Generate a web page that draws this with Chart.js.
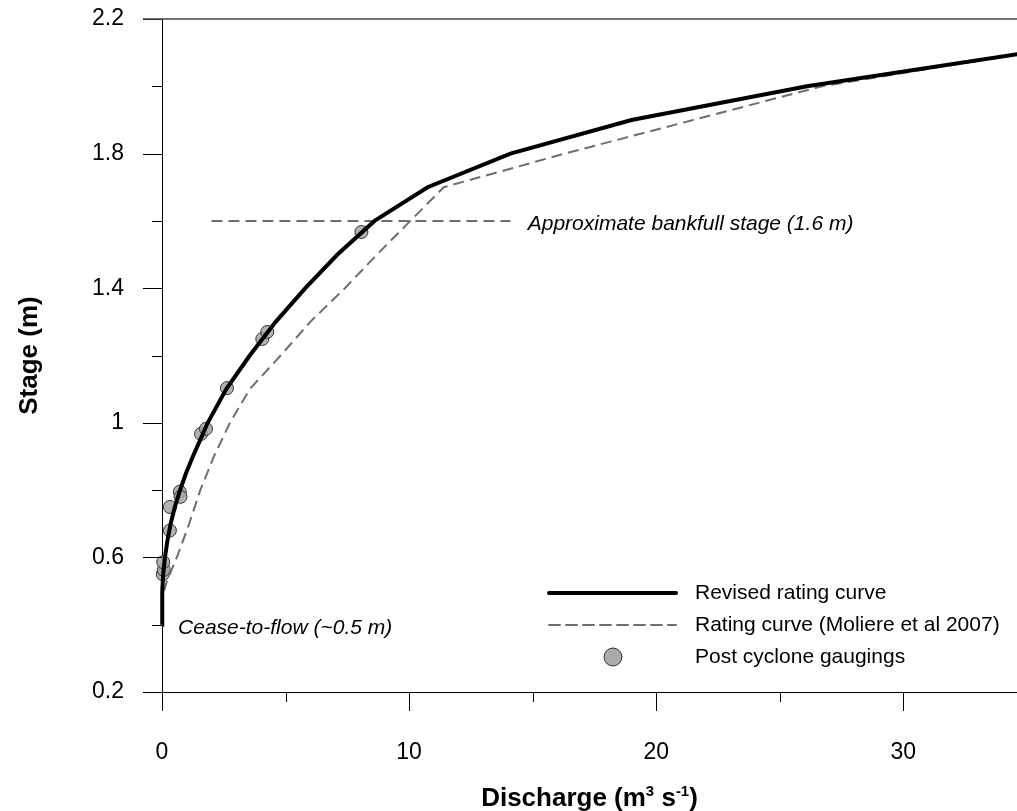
<!DOCTYPE html>
<html lang="en">
<head>
<meta charset="UTF-8">
<title>Stage-discharge rating</title>
<script src="https://cdn.jsdelivr.net/npm/chart.js@4.4.0/dist/chart.umd.min.js"></script>
<style>
  body { margin: 0; background: #fff; }
  canvas { display: block; }
</style>
</head>
<body>
<canvas id="ratingChart" width="1017" height="811"></canvas>
<script>
// revised rating curve (discharge m3/s, stage m)
const revisedQ = [0, 0.01, 0.05, 0.12, 0.22, 0.35, 0.52, 0.73, 0.97, 1.25, 1.55, 1.85, 2.6, 3.55, 4.6, 5.8, 7.1, 8.6, 10.75, 14.1, 19.0, 26.1, 35.0];
const revisedH = [0.40, 0.50, 0.55, 0.60, 0.65, 0.70, 0.75, 0.80, 0.85, 0.90, 0.95, 1.00, 1.10, 1.20, 1.30, 1.40, 1.50, 1.60, 1.70, 1.80, 1.90, 2.00, 2.10];

// older rating curve (Moliere et al 2007)
const moliereQ = [0.08, 0.2, 0.6, 1.1, 1.55, 2.1, 2.75, 3.55, 4.8, 6.0, 7.4, 8.7, 10.05, 11.4, 16.3, 21.5, 26.7, 35.0];
const moliereH = [0.50, 0.53, 0.60, 0.70, 0.80, 0.90, 1.00, 1.10, 1.20, 1.30, 1.40, 1.50, 1.60, 1.70, 1.80, 1.90, 2.00, 2.10];

// gaugings after the cyclone
const gaugingQ = [0.03, 0.07, 0.05, 0.32, 0.32, 0.72, 0.75, 1.58, 1.78, 2.63, 4.06, 4.26, 8.07];
const gaugingH = [0.55, 0.563, 0.586, 0.68, 0.75, 0.795, 0.78, 0.967, 0.982, 1.103, 1.249, 1.27, 1.567];

// bankfull reference line
const bankfullQ = [2.0, 14.1];
const bankfullH = [1.6, 1.6];

// tick values
const xTickLabels = [0, 10, 20, 30];
const yTickLabels = [0.2, 0.6, 1, 1.4, 1.8, 2.2];

const FONT = "'Liberation Sans', Arial, sans-serif";

function pairs(qs, hs) {
    return qs.map((q, i) => ({ x: q, y: hs[i] }));
}

const solidStyle = { color: '#000', width: 4, dash: [] };
const dashStyle = { color: '#6e6e6e', width: 2, dash: [11, 6] };

// tick marks: long for labelled ticks, short for the ones in between
const tickMarks = {
    id: 'tickMarks',
    afterDraw(chart) {
        const ctx = chart.ctx;
        const xs = chart.scales.x, ys = chart.scales.y;
        const a = chart.chartArea;
        ctx.save();
        ctx.strokeStyle = '#000';
        ctx.lineWidth = 1;
        ctx.beginPath();
        xs.ticks.forEach(t => {
            const px = Math.round(xs.getPixelForValue(t.value)) + 0.5;
            const len = xTickLabels.includes(t.value) ? 19 : 10;
            ctx.moveTo(px, a.bottom);
            ctx.lineTo(px, a.bottom + len);
        });
        ys.ticks.forEach(t => {
            const py = Math.round(ys.getPixelForValue(t.value)) + 0.5;
            const major = yTickLabels.some(v => Math.abs(v - t.value) < 1e-6);
            const len = major ? 19 : 10;
            ctx.moveTo(a.left, py);
            ctx.lineTo(a.left - len, py);
        });
        ctx.stroke();
        // top frame line
        ctx.strokeStyle = '#444';
        ctx.lineWidth = 1.5;
        ctx.beginPath();
        ctx.moveTo(a.left - 19, a.top);
        ctx.lineTo(a.right, a.top);
        ctx.stroke();
        ctx.restore();
    }
};

// text notes inside the plot
const notes = {
    id: 'notes',
    afterDraw(chart) {
        const ctx = chart.ctx;
        const xs = chart.scales.x, ys = chart.scales.y;
        ctx.save();
        ctx.fillStyle = '#000';
        ctx.font = 'italic 21px ' + FONT;
        ctx.textBaseline = 'middle';
        ctx.textAlign = 'left';
        ctx.fillText('Approximate bankfull stage (1.6 m)', xs.getPixelForValue(14.8), ys.getPixelForValue(1.59));
        ctx.fillText('Cease-to-flow (~0.5 m)', xs.getPixelForValue(0.65), ys.getPixelForValue(0.39));
        ctx.restore();
    }
};

// x axis title with superscripts
const xTitle = {
    id: 'xTitle',
    afterDraw(chart) {
        const ctx = chart.ctx;
        const a = chart.chartArea;
        const parts = [
            ['Discharge (m', false], ['3', true], [' s', false], ['-1', true], [')', false]
        ];
        const big = 'bold 26px ' + FONT, small = 'bold 15px ' + FONT;
        ctx.save();
        ctx.fillStyle = '#000';
        ctx.textBaseline = 'alphabetic';
        ctx.textAlign = 'left';
        let total = 0;
        parts.forEach(p => { ctx.font = p[1] ? small : big; total += ctx.measureText(p[0]).width; });
        let x = (a.left + a.right) / 2 - total / 2;
        const base = 806;
        parts.forEach(p => {
            ctx.font = p[1] ? small : big;
            ctx.fillText(p[0], x, p[1] ? base - 10 : base);
            x += ctx.measureText(p[0]).width;
        });
        ctx.restore();
    }
};

// legend in the lower right of the plot
const boxLegend = {
    id: 'boxLegend',
    afterDraw(chart) {
        const ctx = chart.ctx;
        const rows = [
            { label: chart.data.datasets[0].label, type: 'line', style: solidStyle, y: 593 },
            { label: chart.data.datasets[1].label, type: 'line', style: dashStyle, y: 625 },
            { label: chart.data.datasets[2].label, type: 'point', y: 657 }
        ];
        ctx.save();
        rows.forEach(r => {
            if (r.type === 'line') {
                ctx.strokeStyle = r.style.color;
                ctx.lineWidth = r.style.width;
                ctx.setLineDash(r.style.dash);
                ctx.lineCap = 'round';
                ctx.beginPath();
                ctx.moveTo(549, r.y);
                ctx.lineTo(676, r.y);
                ctx.stroke();
                ctx.setLineDash([]);
            } else {
                ctx.fillStyle = '#aaaaaa';
                ctx.strokeStyle = '#333';
                ctx.lineWidth = 1;
                ctx.beginPath();
                ctx.arc(613, r.y, 9, 0, Math.PI * 2);
                ctx.fill();
                ctx.stroke();
            }
            ctx.fillStyle = '#000';
            ctx.font = '21px ' + FONT;
            ctx.textBaseline = 'middle';
            ctx.textAlign = 'left';
            ctx.fillText(r.label, 695, r.y);
        });
        ctx.restore();
    }
};

const ctx = document.getElementById('ratingChart').getContext('2d');
const ratingChart = new Chart(ctx, {
    type: 'scatter',
    data: {
        datasets: [{
            label: 'Revised rating curve',
            data: pairs(revisedQ, revisedH),
            showLine: true,
            borderColor: solidStyle.color,
            borderWidth: solidStyle.width,
            pointRadius: 0,
            clip: false,
            order: 0
        }, {
            label: 'Rating curve (Moliere et al 2007)',
            data: pairs(moliereQ, moliereH),
            showLine: true,
            borderColor: dashStyle.color,
            borderWidth: dashStyle.width,
            borderDash: dashStyle.dash,
            pointRadius: 0,
            clip: false,
            order: 1
        }, {
            label: 'Post cyclone gaugings',
            data: pairs(gaugingQ, gaugingH),
            showLine: false,
            pointRadius: 6.5,
            backgroundColor: 'rgba(165,165,165,0.85)',
            borderColor: '#333',
            borderWidth: 1,
            clip: false,
            order: 2
        }, {
            label: 'Bankfull',
            data: pairs(bankfullQ, bankfullH),
            showLine: true,
            borderColor: dashStyle.color,
            borderWidth: dashStyle.width,
            borderDash: dashStyle.dash,
            pointRadius: 0,
            order: 3
        }]
    },
    options: {
        responsive: false,
        animation: false,
        devicePixelRatio: 1,
        layout: { autoPadding: false, padding: { top: 19, right: 0, left: 0, bottom: 0 } },
        plugins: {
            legend: { display: false },
            tooltip: { enabled: false }
        },
        scales: {
            x: {
                type: 'linear',
                min: 0,
                max: 34.6,
                grid: { display: false, drawTicks: false },
                border: { display: true, color: '#000', width: 1 },
                ticks: {
                    stepSize: 5,
                    includeBounds: false,
                    padding: 47,
                    color: '#000',
                    font: { family: FONT, size: 23 },
                    maxRotation: 0,
                    autoSkip: false,
                    callback: v => xTickLabels.includes(v) ? String(v) : ''
                },
                afterFit: s => {
                    s.height = 119;
                    s.paddingLeft = 0;
                    s.paddingRight = 0;
                }
            },
            y: {
                type: 'linear',
                min: 0.2,
                max: 2.2,
                grid: { display: false, drawTicks: false },
                border: { display: true, color: '#000', width: 1 },
                ticks: {
                    stepSize: 0.2,
                    padding: 38,
                    color: '#000',
                    font: { family: FONT, size: 23 },
                    autoSkip: false,
                    callback: v => {
                        const r = Math.round(v * 10) / 10;
                        return yTickLabels.some(t => Math.abs(t - r) < 1e-6) ? String(r) : '';
                    }
                },
                title: {
                    display: true,
                    text: 'Stage (m)',
                    color: '#000',
                    font: { family: FONT, size: 26, weight: 'bold' },
                    padding: { top: 14, bottom: 0 }
                },
                afterFit: s => {
                    s.width = 162;
                    s.paddingTop = 0;
                    s.paddingBottom = 0;
                }
            }
        }
    },
    plugins: [tickMarks, notes, xTitle, boxLegend]
});
</script>
</body>
</html>
